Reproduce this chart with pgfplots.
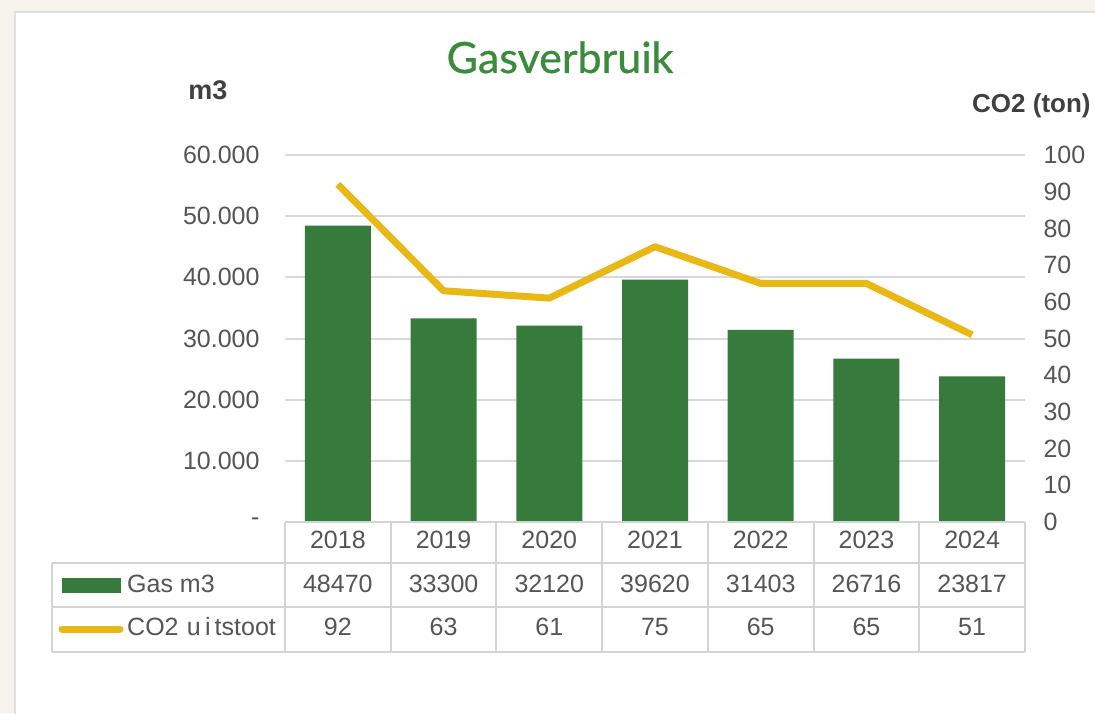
\documentclass[border=0pt]{standalone}
\usepackage{pgfplots}
\pgfplotsset{compat=1.18}
\usepackage{pgfplotstable}
\usepackage{fontspec}
\setmainfont{Liberation Sans}
\newfontfamily\titlefont[FakeBold=0.7]{Lato}
\definecolor{bg}{HTML}{F6F3EC}
\definecolor{bargreen}{HTML}{367B3B}
\definecolor{titlegreen}{HTML}{3A8B3C}
\definecolor{lineyellow}{HTML}{E8B816}
\definecolor{txt}{HTML}{555555}
\definecolor{txtdark}{HTML}{404040}
\definecolor{gridc}{HTML}{D9D9D9}
\definecolor{tabc}{HTML}{D4D4D4}
\newcommand\tf{\fontsize{25}{30}\selectfont}

\pgfplotstableread{
x year gas co2
0 2018 48470 92
1 2019 33300 63
2 2020 32120 61
3 2021 39620 75
4 2022 31403 65
5 2023 26716 65
6 2024 23817 51
}\data

\begin{document}
\begin{tikzpicture}[x=1pt,y=1pt]
\useasboundingbox (0,0) rectangle (1095,713);
\clip (0,0) rectangle (1095,713);
\fill[bg] (0,0) rectangle (1095,713);
\fill[white] (15,-10) rectangle (1105,701);
\draw[black!12, line width=1.5pt] (15,-10) -- (15,701) -- (1105,701);

\begin{axis}[at={(285pt,191pt)}, anchor=south west, scale only axis,
  width=740pt, height=367pt,
  xmin=-0.5, xmax=6.5, ymin=0, ymax=60000,
  axis line style={draw=none}, major tick length=0,
  xtick=\empty, scaled y ticks=false,
  ytick={0,10000,20000,30000,40000,50000,60000},
  yticklabels={-,10.000,20.000,30.000,40.000,50.000,60.000},
  ymajorgrids, grid style={gridc, line width=2pt},
  yticklabel style={font=\tf, text=txt, anchor=east, xshift=-22pt},
  clip=false]
\addplot[ybar, bar width=66pt, fill=bargreen, draw=none] table[x=x,y=gas]{\data};
\addplot[draw=none, mark=none, point meta=explicit symbolic, nodes near coords,
  every node near coord/.style={font=\tf, text=txt, anchor=base, yshift=-26pt}]
  table[x=x, y expr=0, meta=year]{\data};
\addplot[draw=none, mark=none, point meta=explicit symbolic, nodes near coords,
  every node near coord/.style={font=\tf, text=txt, anchor=base, yshift=-70pt}]
  table[x=x, y expr=0, meta=gas]{\data};
\addplot[draw=none, mark=none, point meta=explicit symbolic, nodes near coords,
  every node near coord/.style={font=\tf, text=txt, anchor=base, yshift=-113pt}]
  table[x=x, y expr=0, meta=co2]{\data};
\end{axis}

\begin{axis}[at={(285pt,191pt)}, anchor=south west, scale only axis,
  width=740pt, height=367pt,
  xmin=-0.5, xmax=6.5, ymin=0, ymax=100,
  axis y line*=right, axis x line=none,
  axis line style={draw=none}, major tick length=0,
  ytick={0,10,20,30,40,50,60,70,80,90,100},
  yticklabels={0,10,20,30,40,50,60,70,80,90,100},
  yticklabel style={font=\tf, text=txt, anchor=west, xshift=15pt},
  clip=false]
\addplot[lineyellow, line width=7pt, line join=round, mark=none] table[x=x,y=co2]{\data};
\end{axis}

\begin{scope}[tabc, line width=2pt]
\draw (285,191) -- (1025,191);
\foreach \y in {150,106,61} \draw (52,\y) -- (1025,\y);
\draw (52,150) -- (52,61);
\foreach \i in {0,...,7} \draw ({285+105.714*\i},191) -- ({285+105.714*\i},61);
\end{scope}

\fill[bargreen] (62,120) rectangle (121,135);
\draw[lineyellow, line width=7pt, line cap=round] (62,84) -- (120,84);
\node[anchor=base west, font=\tf, text=txt, inner sep=0] at (127,121) {Gas m3};
\node[anchor=base west, font=\tf, text=txt, inner sep=0] at (127,78) {CO2\,\,u\,i\,tstoot};

\node[anchor=base, font=\titlefont\fontsize{43}{50}\selectfont, text=titlegreen] at (560,640) {Gasverbruik};
\node[anchor=base, font=\bfseries\fontsize{27}{30}\selectfont, text=txtdark] at (208,613) {m3};
\node[anchor=base west, inner sep=0, font=\bfseries\fontsize{26}{30}\selectfont, text=txtdark] at (972,600) {CO2 (ton)};
\end{tikzpicture}
\end{document}
